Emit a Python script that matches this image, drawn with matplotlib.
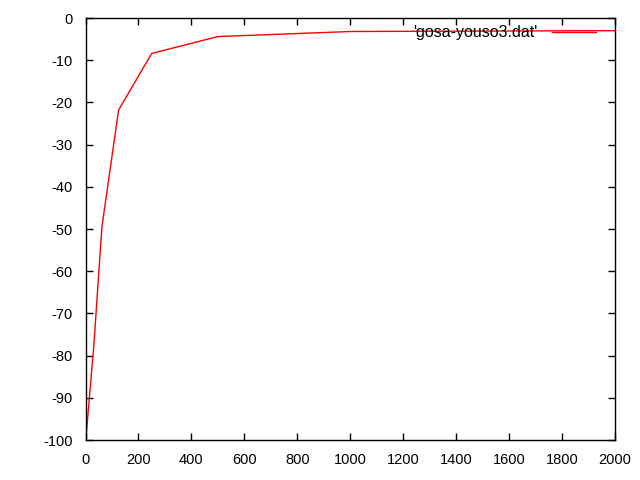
import numpy as np
import matplotlib
matplotlib.use('Agg')
import matplotlib.pyplot as plt

# values
n_elem = [1, 16, 31, 62, 125, 250, 500, 1000, 2000]
gosa = [-100.0, -89.0, -78.0, -49.5, -21.8, -8.4, -4.4, -3.2, -3.0]
xticks = np.arange(0, 2001, 200)
yticks = np.arange(-100, 1, 10)

plt.rcParams['font.family'] = ['Liberation Sans', 'DejaVu Sans']
plt.rcParams['axes.unicode_minus'] = False

fig = plt.figure(figsize=(6.4, 4.8), dpi=100)
ax = fig.add_axes([0.1336, 0.0833, 0.8273, 0.8792])
ax.plot(n_elem, gosa, color='red', lw=1, label="'gosa-youso3.dat'")

ax.set_xlim(0, 2000)
ax.set_ylim(-100, 0)
ax.set_xticks(xticks)
ax.set_yticks(yticks)
ax.tick_params(direction='in', top=True, right=True, length=5, width=1,
               labelsize=10.5, pad=9, colors='black')
for s in ax.spines.values():
    s.set_linewidth(1)

ax.legend(loc='upper right', frameon=False, fontsize=11.5, handlelength=2.75,
          handletextpad=0.9, borderpad=0, borderaxespad=0,
          markerfirst=False, bbox_to_anchor=(0.964, 0.983))

fig.savefig('out.png', dpi=100)
